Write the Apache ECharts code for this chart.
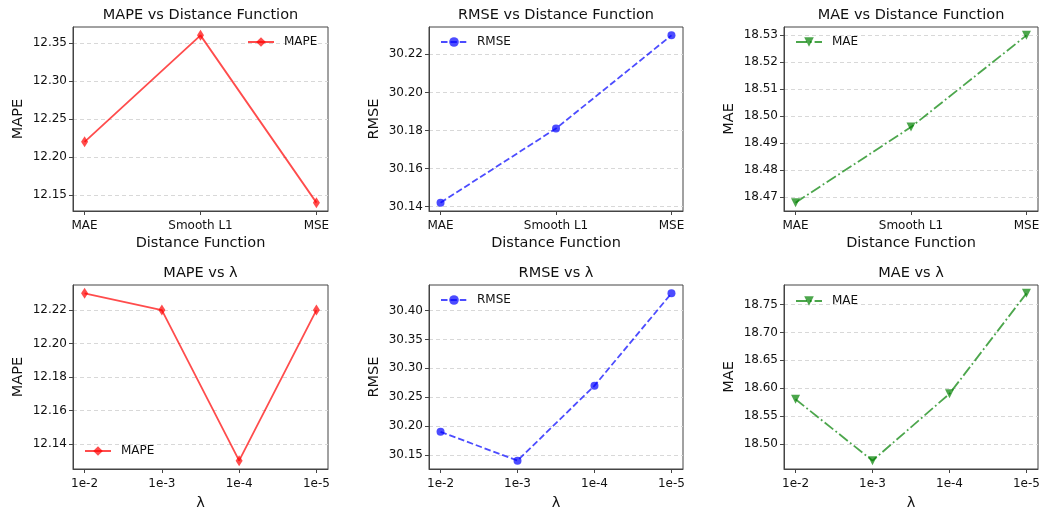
<!DOCTYPE html>
<html>
<head>
<meta charset="utf-8">
<script src="https://cdn.jsdelivr.net/npm/echarts@6/dist/echarts.min.js"></script>
<style>
  html, body { margin: 0; padding: 0; background: #fff; }
  #chart { width: 1042px; height: 508px; }
</style>
</head>
<body>
<div id="chart"></div>
<script>
// categories
var distCats = ['MAE', 'Smooth L1', 'MSE'];
var lambdaCats = ['1e-2', '1e-3', '1e-4', '1e-5'];

// series values
var mapeDist = [12.22, 12.36, 12.14];
var rmseDist = [30.142, 30.181, 30.23];
var maeDist = [18.468, 18.496, 18.53];
var mapeLambda = [12.23, 12.22, 12.13, 12.22];
var rmseLambda = [30.19, 30.14, 30.27, 30.43];
var maeLambda = [18.58, 18.47, 18.59, 18.77];

// tick labels (y)
var mapeDistTicks = [12.15, 12.20, 12.25, 12.30, 12.35];
var rmseDistTicks = [30.14, 30.16, 30.18, 30.20, 30.22];
var maeDistTicks = [18.47, 18.48, 18.49, 18.50, 18.51, 18.52, 18.53];
var mapeLambdaTicks = [12.14, 12.16, 12.18, 12.20, 12.22];
var rmseLambdaTicks = [30.15, 30.20, 30.25, 30.30, 30.35, 30.40];
var maeLambdaTicks = [18.50, 18.55, 18.60, 18.65, 18.70, 18.75];

var FONT = 'DejaVu Sans';
var red = 'rgba(255,0,0,0.7)';
var blue = 'rgba(0,0,255,0.7)';
var green = 'rgba(0,128,0,0.7)';

// panel layout
var cols = [73, 429, 784];
var colW = [255, 254, 254];
var rows = [27, 285];
var rowH = [184, 184];
var xNameGap = [25, 27];

var panels = [
  {title: 'MAPE vs Distance Function', cats: distCats, data: mapeDist, ticks: mapeDistTicks, name: 'MAPE', xname: 'Distance Function',
   color: red, symbol: 'diamond', size: [7, 11], dash: 'solid', legend: {x: 247, y: 43}},
  {title: 'RMSE vs Distance Function', cats: distCats, data: rmseDist, ticks: rmseDistTicks, name: 'RMSE', xname: 'Distance Function',
   color: blue, symbol: 'circle', size: 8, dash: [6.5, 2.9], legend: {x: 440, y: 43}},
  {title: 'MAE vs Distance Function', cats: distCats, data: maeDist, ticks: maeDistTicks, name: 'MAE', xname: 'Distance Function',
   color: green, symbol: 'triangle', rotate: 180, size: 9, dash: [11, 2.9, 1.8, 2.9], legend: {x: 795, y: 43}},
  {title: 'MAPE vs \u03bb', cats: lambdaCats, data: mapeLambda, ticks: mapeLambdaTicks, name: 'MAPE', xname: '\u03bb',
   color: red, symbol: 'diamond', size: [7, 11], dash: 'solid', legend: {x: 84, y: 452}},
  {title: 'RMSE vs \u03bb', cats: lambdaCats, data: rmseLambda, ticks: rmseLambdaTicks, name: 'RMSE', xname: '\u03bb',
   color: blue, symbol: 'circle', size: 8, dash: [6.5, 2.9], legend: {x: 440, y: 301}},
  {title: 'MAE vs \u03bb', cats: lambdaCats, data: maeLambda, ticks: maeLambdaTicks, name: 'MAE', xname: '\u03bb',
   color: green, symbol: 'triangle', rotate: 180, size: 9, dash: [11, 2.9, 1.8, 2.9], legend: {x: 795, y: 302}}
];

var option = {
  animation: false,
  textStyle: {fontFamily: FONT},
  title: [], grid: [], xAxis: [], yAxis: [], series: [], legend: []
};

panels.forEach(function (p, i) {
  var r = Math.floor(i / 3), c = i % 3;
  var left = cols[c], top = rows[r], w = colW[c];
  var n = p.cats.length;
  var xm = (n - 1) * 0.05;
  var lo = Math.min.apply(null, p.data), hi = Math.max.apply(null, p.data);
  var ym = (hi - lo) * 0.05;
  var idx = [];
  for (var k = 0; k < n; k++) idx.push(k);

  option.title.push({
    text: p.title, left: left + w / 2, top: top - 19, textAlign: 'center', padding: 0,
    textStyle: {fontFamily: FONT, fontSize: 14.5, fontWeight: 'normal', color: '#111'}
  });
  option.grid.push({
    left: left, top: top, width: w, height: rowH[r],
    outerBoundsMode: 'none', containLabel: false,
    show: true, borderColor: '#444', borderWidth: 1, backgroundColor: 'transparent'
  });
  option.xAxis.push({
    type: 'value', gridIndex: i, min: -xm, max: n - 1 + xm,
    name: p.xname, nameLocation: 'middle', nameGap: xNameGap[r],
    nameTextStyle: {fontFamily: FONT, fontSize: 14.5, color: '#111'},
    axisLine: {show: true, onZero: false, lineStyle: {color: '#444'}},
    axisTick: {show: true, length: 4, customValues: idx, lineStyle: {color: '#444'}},
    axisLabel: {customValues: idx, margin: 9, fontFamily: FONT, fontSize: 12, color: '#111',
      formatter: function (v) { return p.cats[Math.round(v)]; }},
    splitLine: {show: false}
  });
  option.yAxis.push({
    type: 'value', gridIndex: i, min: lo - ym, max: hi + ym,
    name: p.name, nameLocation: 'middle', nameGap: 47,
    nameTextStyle: {fontFamily: FONT, fontSize: 14.5, color: '#111'},
    axisLine: {show: true, onZero: false, lineStyle: {color: '#444'}},
    axisTick: {show: true, length: 4, customValues: p.ticks, lineStyle: {color: '#444'}},
    axisLabel: {customValues: p.ticks, margin: 6, fontFamily: FONT, fontSize: 12, color: '#111',
      formatter: function (v) { return v.toFixed(2); }},
    splitLine: {show: true, lineStyle: {color: '#d8d8d8', type: [4, 3], width: 1}}
  });
  option.series.push({
    type: 'line', name: p.name, xAxisIndex: i, yAxisIndex: i,
    data: p.data.map(function (v, k) { return [k, v]; }),
    symbol: p.symbol, symbolSize: p.size, symbolRotate: p.rotate || 0,
    lineStyle: {color: p.color, width: 1.8, type: p.dash},
    itemStyle: {color: p.color, borderWidth: 0},
    showAllSymbol: true
  });
  option.legend.push({
    data: [{name: p.name}], left: p.legend.x, top: p.legend.y - 7, padding: 0,
    itemWidth: 26, itemHeight: 12,
    textStyle: {fontFamily: FONT, fontSize: 12, color: '#111', padding: [0, 0, 0, 5]},
    selectedMode: false
  });
});

var chart = echarts.init(document.getElementById('chart'));
chart.setOption(option);
</script>
</body>
</html>
